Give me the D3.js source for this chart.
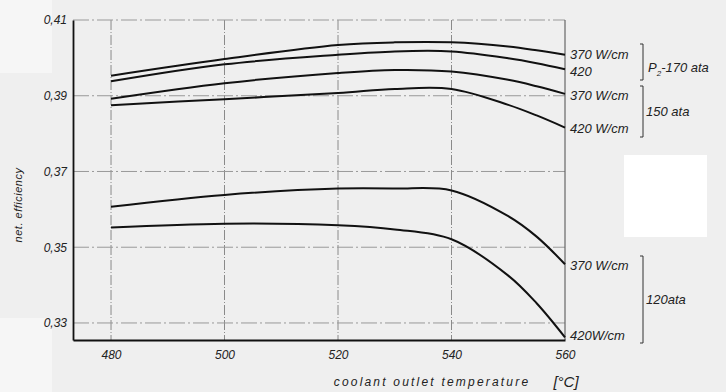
<!DOCTYPE html>
<html>
<head>
<meta charset="utf-8">
<script src="https://cdn.jsdelivr.net/npm/d3@7"></script>
<style>
  body { margin: 0; background: #efefef; }
  svg { display: block; overflow: visible; }
</style>
</head>
<body>
<div id="chart"></div>
<script>
// coolant outlet temperature [°C]
const temps = [480, 500, 520, 530, 540, 550, 555, 560];
const xTicks = [480, 500, 520, 540, 560];
const yTicks = [0.33, 0.35, 0.37, 0.39, 0.41];

// net efficiency per curve
const p170w370 = [0.3953, 0.3997, 0.4034, 0.4041, 0.4041, 0.4030, 0.4020, 0.4008];
const p170w420 = [0.3938, 0.3983, 0.4008, 0.4017, 0.4017, 0.3999, 0.3986, 0.3970];
const p150w370 = [0.3892, 0.3933, 0.3960, 0.3968, 0.3964, 0.3942, 0.3925, 0.3905];
const p150w420 = [0.3875, 0.3891, 0.3907, 0.3918, 0.3918, 0.3876, 0.3848, 0.3816];
const p120w370 = [0.3607, 0.3638, 0.3655, 0.3655, 0.3650, 0.3582, 0.3528, 0.3455];
const p120w420 = [0.3552, 0.3562, 0.3558, 0.3547, 0.3521, 0.3425, 0.3352, 0.3262];

const series = [p170w370, p170w420, p150w370, p150w420, p120w370, p120w420];

const width = 726;
const height = 392;
const margin = { top: 20, right: 161, bottom: 52, left: 73 };
const innerWidth = width - margin.left - margin.right;
const innerHeight = height - margin.top - margin.bottom;
const font = "Liberation Sans";

const xScale = d3.scaleLinear()
  .domain([473.3, 560])
  .range([0, innerWidth]);

const yScale = d3.scaleLinear()
  .domain([0.3255, 0.41])
  .range([innerHeight, 0]);

const svg = d3.select("#chart")
  .append("svg")
    .attr("width", width)
    .attr("height", height)
    .attr("viewBox", `0 0 ${width} ${height}`);

// paper patches
svg.append("rect").attr("x", 0).attr("y", 0).attr("width", 52).attr("height", 73).attr("fill", "#f6f6f6");
svg.append("rect").attr("x", 0).attr("y", 318).attr("width", 52).attr("height", 74).attr("fill", "#f6f6f6");
svg.append("rect").attr("x", 624).attr("y", 155).attr("width", 83).attr("height", 82).attr("fill", "#ffffff");

const inner = svg.append("g")
  .attr("transform", `translate(${margin.left}, ${margin.top})`);

// grid
inner.selectAll(".vgrid")
  .data(xTicks.slice(0, -1))
  .join("line")
    .attr("x1", (d) => xScale(d))
    .attr("x2", (d) => xScale(d))
    .attr("y1", 0)
    .attr("y2", innerHeight)
    .attr("stroke", "#8a8a8a")
    .attr("stroke-width", 1)
    .attr("stroke-dasharray", "10,2,1,2");

inner.selectAll(".hgrid")
  .data(yTicks)
  .join("line")
    .attr("x1", 0)
    .attr("x2", innerWidth)
    .attr("y1", (d) => yScale(d))
    .attr("y2", (d) => yScale(d))
    .attr("stroke", "#999")
    .attr("stroke-width", 1)
    .attr("stroke-dasharray", "16,3,2,3");

// right frame line
inner.append("line")
  .attr("x1", innerWidth).attr("x2", innerWidth)
  .attr("y1", 0).attr("y2", innerHeight)
  .attr("stroke", "#666").attr("stroke-width", 1.2);

// axes
const xAxis = inner.append("g")
  .attr("transform", `translate(0, ${innerHeight})`)
  .call(d3.axisBottom(xScale).tickValues(xTicks).tickSize(0).tickPadding(10));

const yAxis = inner.append("g")
  .call(d3.axisLeft(yScale).tickValues(yTicks).tickSize(0).tickPadding(6)
    .tickFormat((d) => d3.format(".2f")(d).replace(".", ",")));

[xAxis, yAxis].forEach((a) => {
  a.attr("font-family", font).attr("font-size", 12);
  a.select(".domain").attr("stroke", "#111").attr("stroke-width", 1.8);
  a.selectAll("text").attr("fill", "#222").attr("font-style", "italic");
});

// curves
const line = d3.line()
  .x((d, i) => xScale(temps[i]))
  .y((d) => yScale(d))
  .curve(d3.curveCatmullRom.alpha(0.5));

inner.selectAll(".curve")
  .data(series)
  .join("path")
    .attr("class", "curve")
    .attr("d", line)
    .attr("fill", "none")
    .attr("stroke", "#111")
    .attr("stroke-width", 2);

// texts outside the axes
const labels = svg.append("g")
  .attr("font-family", font)
  .attr("font-style", "italic")
  .attr("fill", "#222");

labels.append("text")
  .attr("transform", "translate(22, 205) rotate(-90)")
  .attr("text-anchor", "middle")
  .attr("font-size", 11)
  .attr("letter-spacing", 0.5)
  .text("net. efficiency");

labels.append("text")
  .attr("x", 432).attr("y", 386)
  .attr("text-anchor", "middle")
  .attr("font-size", 12)
  .attr("letter-spacing", 2.2)
  .text("coolant  outlet  temperature");

labels.append("text")
  .attr("x", 566).attr("y", 387)
  .attr("text-anchor", "middle")
  .attr("font-size", 15)
  .text("[°C]");

// right labels
const rightLabels = [
  { t: "370 W/cm", y: 59 },
  { t: "420", y: 76 },
  { t: "370 W/cm", y: 100 },
  { t: "420 W/cm", y: 133 },
  { t: "370 W/cm", y: 270 },
  { t: "420W/cm", y: 340 }
];
labels.selectAll(".rlab")
  .data(rightLabels)
  .join("text")
    .attr("x", 570)
    .attr("y", (d) => d.y)
    .attr("font-size", 13)
    .text((d) => d.t);

// brackets
const brackets = [[44, 80], [86, 137], [256, 343]];
svg.selectAll(".br")
  .data(brackets)
  .join("path")
    .attr("d", (d) => `M640,${d[0]} h3 V${d[1]} h-3`)
    .attr("fill", "none")
    .attr("stroke", "#333")
    .attr("stroke-width", 1);

const g170 = labels.append("text").attr("x", 648).attr("y", 72).attr("font-size", 13);
g170.append("tspan").text("P");
g170.append("tspan").attr("font-size", 8).attr("dy", 4).text("2");
g170.append("tspan").attr("dy", -4).text("-170  ata");

const groupLabels = [
  { y: 116, t: "150 ata" },
  { y: 304, t: "120ata" }
];
labels.selectAll(".glab")
  .data(groupLabels)
  .join("text")
    .attr("x", 646)
    .attr("y", (d) => d.y)
    .attr("font-size", 13)
    .text((d) => d.t);
</script>
</body>
</html>
